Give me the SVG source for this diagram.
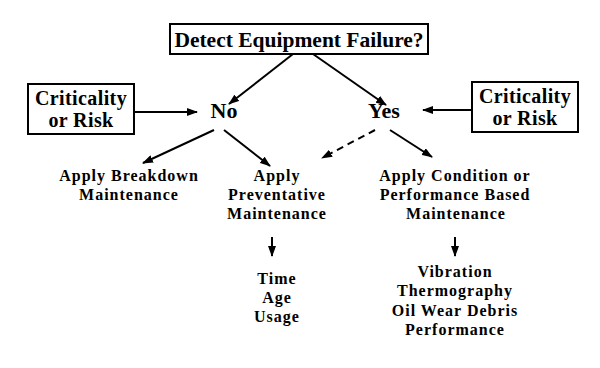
<svg xmlns="http://www.w3.org/2000/svg" width="600" height="368" viewBox="0 0 600 368">
<style>
text{font-family:"Liberation Serif","Times New Roman",serif;font-weight:bold;fill:#000;text-anchor:middle}
.box{fill:#fff;stroke:#000;stroke-width:2}
.t16{font-size:16px;letter-spacing:1px}
.t20{font-size:20px;letter-spacing:0.4px}
.c{stroke:#000;stroke-width:2;fill:none}
.d{stroke-dasharray:7,5}
</style>
<defs>
<marker id="ah" markerWidth="11" markerHeight="8" refX="10" refY="4" orient="auto" markerUnits="userSpaceOnUse">
<path d="M0,0 L11,4 L0,8 Z" fill="#000"/>
</marker>
</defs>
<rect width="600" height="368" fill="#fff"/>
<g id="connectors">
<line class="c" x1="293" y1="54" x2="229" y2="104" marker-end="url(#ah)"/>
<line class="c" x1="313" y1="54" x2="386" y2="105" marker-end="url(#ah)"/>
<line class="c" x1="134" y1="112" x2="197" y2="112" marker-end="url(#ah)"/>
<line class="c" x1="472" y1="110" x2="423" y2="110" marker-end="url(#ah)"/>
<line class="c" x1="214" y1="130" x2="143" y2="163" marker-end="url(#ah)"/>
<line class="c" x1="224" y1="130" x2="270" y2="166" marker-end="url(#ah)"/>
<line class="c d" x1="375" y1="130" x2="322" y2="158" marker-end="url(#ah)"/>
<line class="c" x1="390" y1="130" x2="432" y2="157" marker-end="url(#ah)"/>
<line class="c" x1="272" y1="237" x2="272" y2="256" marker-end="url(#ah)"/>
<line class="c" x1="455" y1="237" x2="455" y2="256" marker-end="url(#ah)"/>
</g>
<g id="detect">
<rect class="box" x="170" y="24" width="258" height="30"/>
<text x="299" y="47" style="font-size:21.5px">Detect Equipment Failure?</text>
</g>
<g id="crit-left">
<rect class="box" x="28" y="84" width="106" height="50"/>
<text class="t20" x="81" y="105">Criticality</text>
<text class="t20" x="81" y="127">or Risk</text>
</g>
<g id="crit-right">
<rect class="box" x="472" y="82" width="106" height="50"/>
<text class="t20" x="525" y="103">Criticality</text>
<text class="t20" x="525" y="125">or Risk</text>
</g>
<g id="no"><text x="224" y="118" style="font-size:22px">No</text></g>
<g id="yes"><text x="384" y="118" style="font-size:22px">Yes</text></g>
<g id="breakdown">
<text class="t16" x="129" y="181">Apply Breakdown</text>
<text class="t16" x="129" y="200">Maintenance</text>
</g>
<g id="preventative">
<text class="t16" x="277" y="181">Apply</text>
<text class="t16" x="277" y="200">Preventative</text>
<text class="t16" x="277" y="219">Maintenance</text>
</g>
<g id="condition">
<text class="t16" x="455" y="181">Apply Condition or</text>
<text class="t16" x="455" y="200">Performance Based</text>
<text class="t16" x="456" y="219">Maintenance</text>
</g>
<g id="time">
<text class="t16" x="277" y="284">Time</text>
<text class="t16" x="277" y="303">Age</text>
<text class="t16" x="277" y="322">Usage</text>
</g>
<g id="cbm">
<text class="t16" x="455" y="277">Vibration</text>
<text class="t16" x="455" y="296">Thermography</text>
<text class="t16" x="455" y="315.5">Oil Wear Debris</text>
<text class="t16" x="455" y="335">Performance</text>
</g>
</svg>
